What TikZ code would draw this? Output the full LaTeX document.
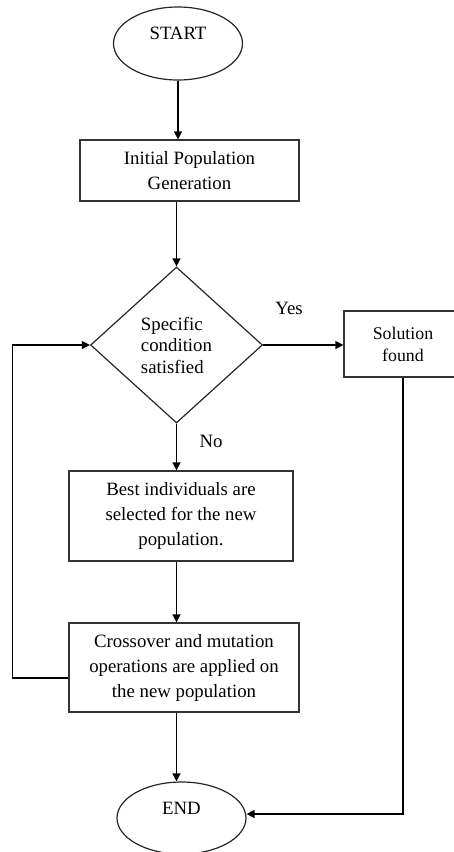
\documentclass[tikz,border=0pt]{standalone}
\usepackage{fontspec}
\setmainfont{Liberation Serif}
\usetikzlibrary{shapes.geometric,arrows.meta}

\begin{document}
\begin{tikzpicture}[x=1pt,y=-1pt,
  every node/.style={font=\fontsize{18.8}{25}\selectfont},
  terminal/.style={ellipse, draw=black!85, line width=1.2pt,
    minimum width=129pt, minimum height=73pt, inner sep=0pt,
    text height=12.4pt, text depth=20pt},
  process/.style={rectangle, draw=black!80, line width=1.2pt,
    align=center, inner sep=0pt},
  decision/.style={diamond, draw=black!85, line width=1.2pt,
    minimum width=172pt, minimum height=156pt, inner sep=0pt,
    align=left, font=\fontsize{18.8}{21.5}\selectfont},
  flow/.style={-{Triangle[length=8pt,width=8pt]}, line width=1.3pt},
  tag/.style={inner sep=0pt}
]
\useasboundingbox (0,0) rectangle (454,852);
\clip (0,0) rectangle (454,852);

% nodes
\node[terminal] (start) at (178,43.5) {START};
\node[process, minimum width=219pt, minimum height=61pt] (init) at (189.5,170.5)
  {Initial Population\\Generation};
\node[decision] (dec) at (176.5,345) {Specific\\condition\\satisfied};
\node[process, minimum width=118pt, minimum height=66pt,
  font=\fontsize{17.8}{22}\selectfont] (sol) at (403,344) {Solution\\found};
\node[process, minimum width=224pt, minimum height=90pt] (best) at (181,516)
  {Best individuals are\\selected for the new\\population.};
\node[process, minimum width=230pt, minimum height=89pt] (cross) at (184,667.5)
  {Crossover and mutation\\operations are applied on\\the new population};
\node[terminal, minimum width=129pt, minimum height=72pt] (endn) at (181.5,818) {END};

\node[tag] (yes) at (289,308) {Yes};
\node[tag] (no) at (211,441) {No};

% connectors
\draw[flow] (start.south) -- (start.south |- init.north);
\draw[flow] (init.south -| dec.north) -- (dec.north);
\draw[flow] (dec.east) -- (dec.east -| sol.west);
\draw[flow] (dec.south) -- (dec.south |- best.north);
\draw[flow] (best.south -| dec.south) -- (dec.south |- cross.north);
\draw[flow] (cross.south -| dec.south) -- (dec.south |- endn.north);
\draw[flow] ([yshift=-10.5pt]cross.west) -- ++(-56,0) |- (dec.west);
\draw[flow] (sol.south) |- ([yshift=4pt]endn.east);
\end{tikzpicture}
\end{document}
